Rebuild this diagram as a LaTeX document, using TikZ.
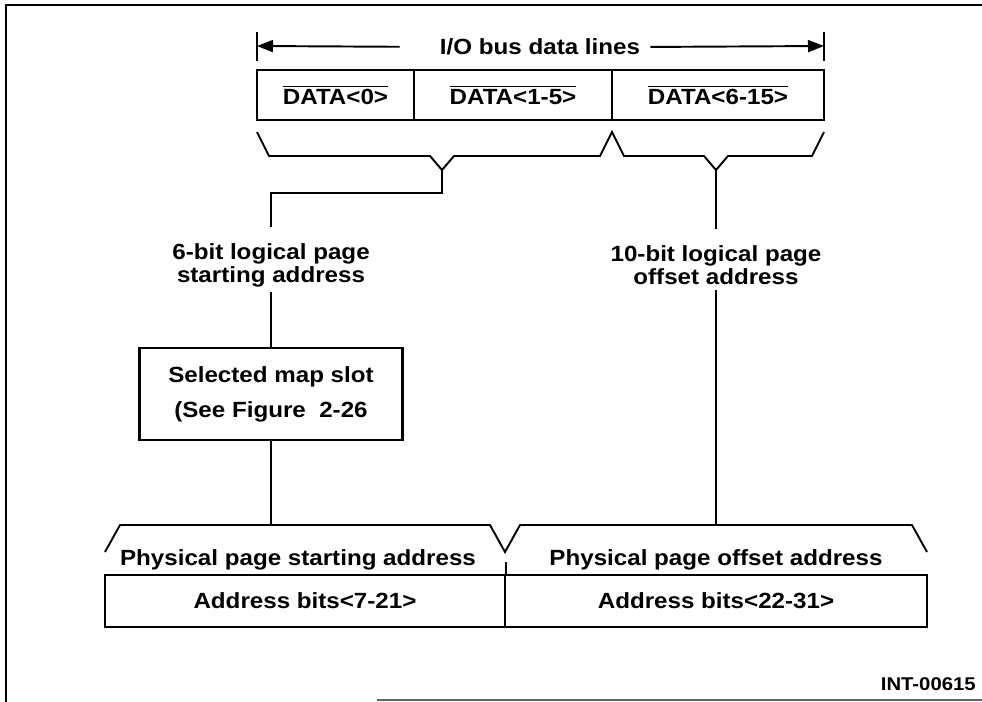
\documentclass[tikz,border=0pt]{standalone}
\usepackage{fontspec}
\setmainfont{Liberation Sans}[FakeStretch=1.1]
\usetikzlibrary{arrows.meta,positioning}
\tikzset{
  >={Triangle[length=3.2mm,width=2.4mm]},
  txt/.style={font=\fontsize{12.5}{13}\selectfont\bfseries,align=center,inner sep=0pt},
  cell/.style={draw,line width=1.2pt,minimum height=10mm,inner sep=0pt,
    font=\fontsize{12.5}{13}\selectfont\bfseries},
  slotbox/.style={draw,line width=1.2pt,minimum width=52.6mm,minimum height=18.4mm,
    align=center,font=\fontsize{12.5}{20}\selectfont\bfseries},
  rule/.style={line width=1.1pt},
}
\newcommand{\ovl}[1]{$\overline{\mbox{#1}}$}

\begin{document}
\begin{tikzpicture}[x=0.2mm,y=-0.2mm,line join=miter]
  \useasboundingbox (0,0) rectangle (982,702);
  % frame
  \draw[line width=1.6pt] (6,702) -- (6,5) -- (982,5);
  \draw[line width=0.6pt,black!60] (377,700) -- (982,700);
  % bus width
  \node[txt] (bus) at (540,47) {I/O bus data lines};
  \coordinate (barL) at (257,46);
  \coordinate (barR) at (824,46);
  \draw[rule] (257,32) -- (257,61) (824,32) -- (824,61);
  \draw[rule,->,shorten <=8mm] (bus.west) -- (barL);
  \draw[rule,->,shorten <=2mm] (bus.east) -- (barR);
  % data lines
  \node[cell,minimum width=31.4mm] (d0) at (335.5,95) {\ovl{DATA<0>}};
  \node[cell,minimum width=39.6mm] (d1) at (513,95) {\ovl{DATA<1-5>}};
  \node[cell,minimum width=42.4mm] (d2) at (718,95) {\ovl{DATA<6-15>}};
  % upper braces
  \draw[rule] (257,132) -- (269,156) -- (430,156) -- (442,170) -- (454,156) -- (600,156)
    -- (612,132) -- (624,156) -- (704,156) -- (716,170) -- (728,156) -- (812,156) -- (824,132);
  \coordinate (tipA) at (442,170);
  \coordinate (tipB) at (716,170);
  % logical address parts
  \node[txt] (startlbl) at (271,265) {6-bit logical page\\starting address};
  \node[txt] (offlbl) at (716,265) {10-bit logical page\\offset address};
  \node[slotbox] (slot) at (271,394) {Selected map slot\\(See Figure\ \ 2-26};
  % physical address
  \draw[rule] (105,552) -- (120,525) -- (490,525) -- (505,552) -- (520,525) -- (912,525) -- (927,552);
  \coordinate (tipC) at (271,525);
  \coordinate (tipD) at (716,525);
  \node[txt] (physA) at (298,560) {Physical page starting address};
  \node[txt] (physB) at (716,560) {Physical page offset address};
  \node[cell,minimum width=80mm,minimum height=10.4mm] (addrA) at (305,601) {Address bits<7-21>};
  \node[cell,minimum width=84.4mm,minimum height=10.4mm] (addrB) at (716,601) {Address bits<22-31>};
  \draw[rule] (addrA.north east) -- ++(0,-12);
  % connectors
  \draw[rule] (tipA) -- ++(0,23) -| ([yshift=9pt]startlbl.north);
  \draw[rule] ([yshift=-3pt]startlbl.south) -- (slot.north);
  \draw[rule] (slot.south) -- (tipC);
  \draw[rule] (tipB) -- ([yshift=9pt]offlbl.north);
  \draw[rule] ([yshift=-3pt]offlbl.south) -- (tipD);
  \node[font=\fontsize{10.5}{12}\selectfont\bfseries,anchor=east,inner sep=0pt] (figid) at (976,684) {INT-00615};
\end{tikzpicture}
\end{document}
